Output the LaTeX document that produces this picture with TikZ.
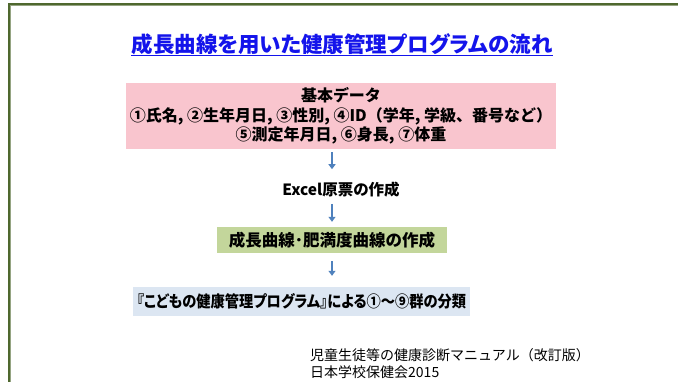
\documentclass[tikz,border=0pt]{standalone}
\usepackage{fontspec}
\usetikzlibrary{arrows.meta,calc}
\newfontfamily\jp{Noto Sans CJK JP}
\newfontfamily\jpp{Noto Sans CJK JP}[RawFeature=+palt]
\definecolor{frameg}{RGB}{79,104,46}
\definecolor{pinkbox}{RGB}{249,197,206}
\definecolor{greenbox}{RGB}{195,214,155}
\definecolor{bluebox}{RGB}{220,230,242}
\definecolor{arrowc}{RGB}{79,129,189}
\definecolor{titleblue}{RGB}{20,20,235}
\tikzset{
  box/.style={inner sep=0pt, align=center, font=\jp\bfseries},
  arr/.style={draw=arrowc, line width=1.9pt, -{Triangle[length=5pt,width=7pt]}},
}
\begin{document}
\begin{tikzpicture}[x=1pt,y=-1pt]
\useasboundingbox (0,0) rectangle (678,381);
\clip (0,0) rectangle (678,381);
\fill[white] (0,0) rectangle (678,381);
% frame
\draw[frameg!60, line width=3pt] (9,4) rectangle (720,420);
\draw[frameg, line width=1.3pt] (9,4) rectangle (720,420);
% title
\node[box, anchor=base, font=\jpp\bfseries\fontsize{21.5}{24}\selectfont, text=titleblue] (title) at (342,52) {成長曲線を用いた健康管理プログラムの流れ};
\draw[titleblue, line width=1pt] ([yshift=-3pt]title.base west) -- ([yshift=-3pt]title.base east);
% pink box
\node[box, fill=pinkbox, minimum width=430pt, minimum height=66pt, font=\jp\bfseries\fontsize{16}{19.5}\selectfont] (data) at (341,116)
  {基本データ\\①氏名, ②生年月日, ③性別, ④ID（学年, 学級、番号など）\\⑤測定年月日, ⑥身長, ⑦体重};
% excel
\node[box, font=\jpp\bfseries\fontsize{15.5}{18}\selectfont] (excel) at (341,190) {Excel原票の作成};
% green box
\node[box, fill=greenbox, minimum width=230pt, minimum height=26pt, font=\jp\bfseries\fontsize{16.5}{19}\selectfont] (curve) at (332,240) {成長曲線･肥満度曲線の作成};
% blue box
\node[box, fill=bluebox, minimum width=337pt, minimum height=29pt, font=\jpp\bfseries\fontsize{16}{19}\selectfont] (group) at (301.5,301.5) {\scalebox{0.89}[1]{『こどもの健康管理プログラム』による①〜⑨群の分類}};
% arrows
\draw[arr] ($(data.south -| curve.north)+(0,3)$) -- ($(data.south -| curve.north)+(0,20)$);
\draw[arr] ($(excel.south -| curve.north)+(0,6)$) -- ($(curve.north)+(0,-5)$);
\draw[arr] ($(curve.south)+(0,8)$) -- ($(group.north -| curve.south)+(0,-11)$);
% footer
\node[box, anchor=west, align=left, font=\jp\fontsize{14}{17}\selectfont] (ref) at (310,363.5) {児童生徒等の健康診断マニュアル（改訂版）\\日本学校保健会2015};
\end{tikzpicture}
\end{document}
